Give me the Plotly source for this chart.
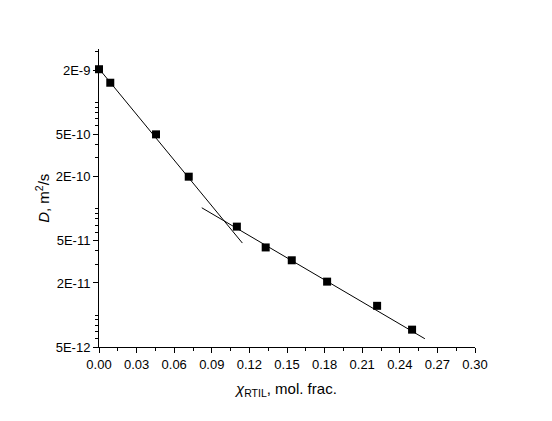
import numpy as np
import plotly.graph_objects as go

# data
x_frac = [0.0, 0.009, 0.0455, 0.0716, 0.110, 0.133, 0.1538, 0.182, 0.2219, 0.2498]
D_vals = [2.05e-9, 1.53e-9, 5.0e-10, 2.0e-10, 6.78e-11, 4.32e-11, 3.27e-11, 2.06e-11, 1.22e-11, 7.28e-12]

fit1_x = [0.0, 0.1144]
fit1_y = [2.07e-9, 4.75e-11]
fit2_x = [0.082, 0.260]
fit2_y = [1.02e-10, 5.98e-12]

x_ticks = [0.00, 0.03, 0.06, 0.09, 0.12, 0.15, 0.18, 0.21, 0.24, 0.27, 0.30]
y_ticks = [2e-9, 5e-10, 2e-10, 5e-11, 2e-11, 5e-12]
y_labels = ["2E-9", "5E-10", "2E-10", "5E-11", "2E-11", "5E-12"]

minor_y = []
for e in range(-12, -8):
    for m in range(1, 10):
        v = m * 10.0 ** e
        if 5e-12 * 0.99 <= v <= 3.2e-9 and not any(abs(v - t) / t < 1e-6 for t in y_ticks):
            minor_y.append(v)

fig = go.Figure()
fig.add_trace(go.Scatter(x=fit1_x, y=fit1_y, mode="lines",
                         line=dict(color="black", width=1), showlegend=False))
fig.add_trace(go.Scatter(x=fit2_x, y=fit2_y, mode="lines",
                         line=dict(color="black", width=1), showlegend=False))
fig.add_trace(go.Scatter(x=x_frac, y=D_vals, mode="markers",
                         marker=dict(symbol="square", size=8, color="black"),
                         showlegend=False, cliponaxis=False))

font = dict(family="Liberation Sans, Arial, sans-serif", size=13, color="black")
tfont = dict(family="Liberation Sans, Arial, sans-serif", size=15, color="black")

fig.update_layout(
    width=552, height=421,
    margin=dict(l=91, r=85, t=41, b=82),
    plot_bgcolor="white", paper_bgcolor="white",
    font=font,
    xaxis=dict(
        range=[0, 0.30], tickmode="array", tickvals=x_ticks,
        ticktext=[f"{v:.2f}" for v in x_ticks],
        showline=True, linecolor="black", linewidth=1,
        ticks="outside", ticklen=5, tickwidth=1, tickcolor="black",
        minor=dict(ticks="outside", ticklen=3, tickwidth=1, tickcolor="black", dtick=0.015, tick0=0),
        showgrid=False, zeroline=False, mirror=False,
        tickfont=font,
    ),
    yaxis=dict(
        type="log", range=[np.log10(5e-12), -8.498],
        tickmode="array", tickvals=y_ticks, ticktext=y_labels,
        showline=True, linecolor="black", linewidth=1,
        ticks="outside", ticklen=5, tickwidth=1, tickcolor="black",
        minor=dict(ticks="outside", ticklen=3, tickwidth=1, tickcolor="black",
                   tickmode="array", tickvals=minor_y),
        showgrid=False, zeroline=False, mirror=False,
        tickfont=font,
    ),
    annotations=[
        dict(text="<i>χ</i><sub>RTIL</sub>, mol. frac.", xref="paper", yref="paper",
             x=0.497, y=-0.144, xanchor="center", yanchor="middle", showarrow=False,
             font=tfont),
        dict(text="<i>D</i>, m<sup>2</sup>/s", xref="paper", yref="paper",
             x=-0.152, y=0.5, xanchor="center", yanchor="middle", showarrow=False,
             textangle=-90, font=tfont),
    ],
)

fig.write_html("out.html")
